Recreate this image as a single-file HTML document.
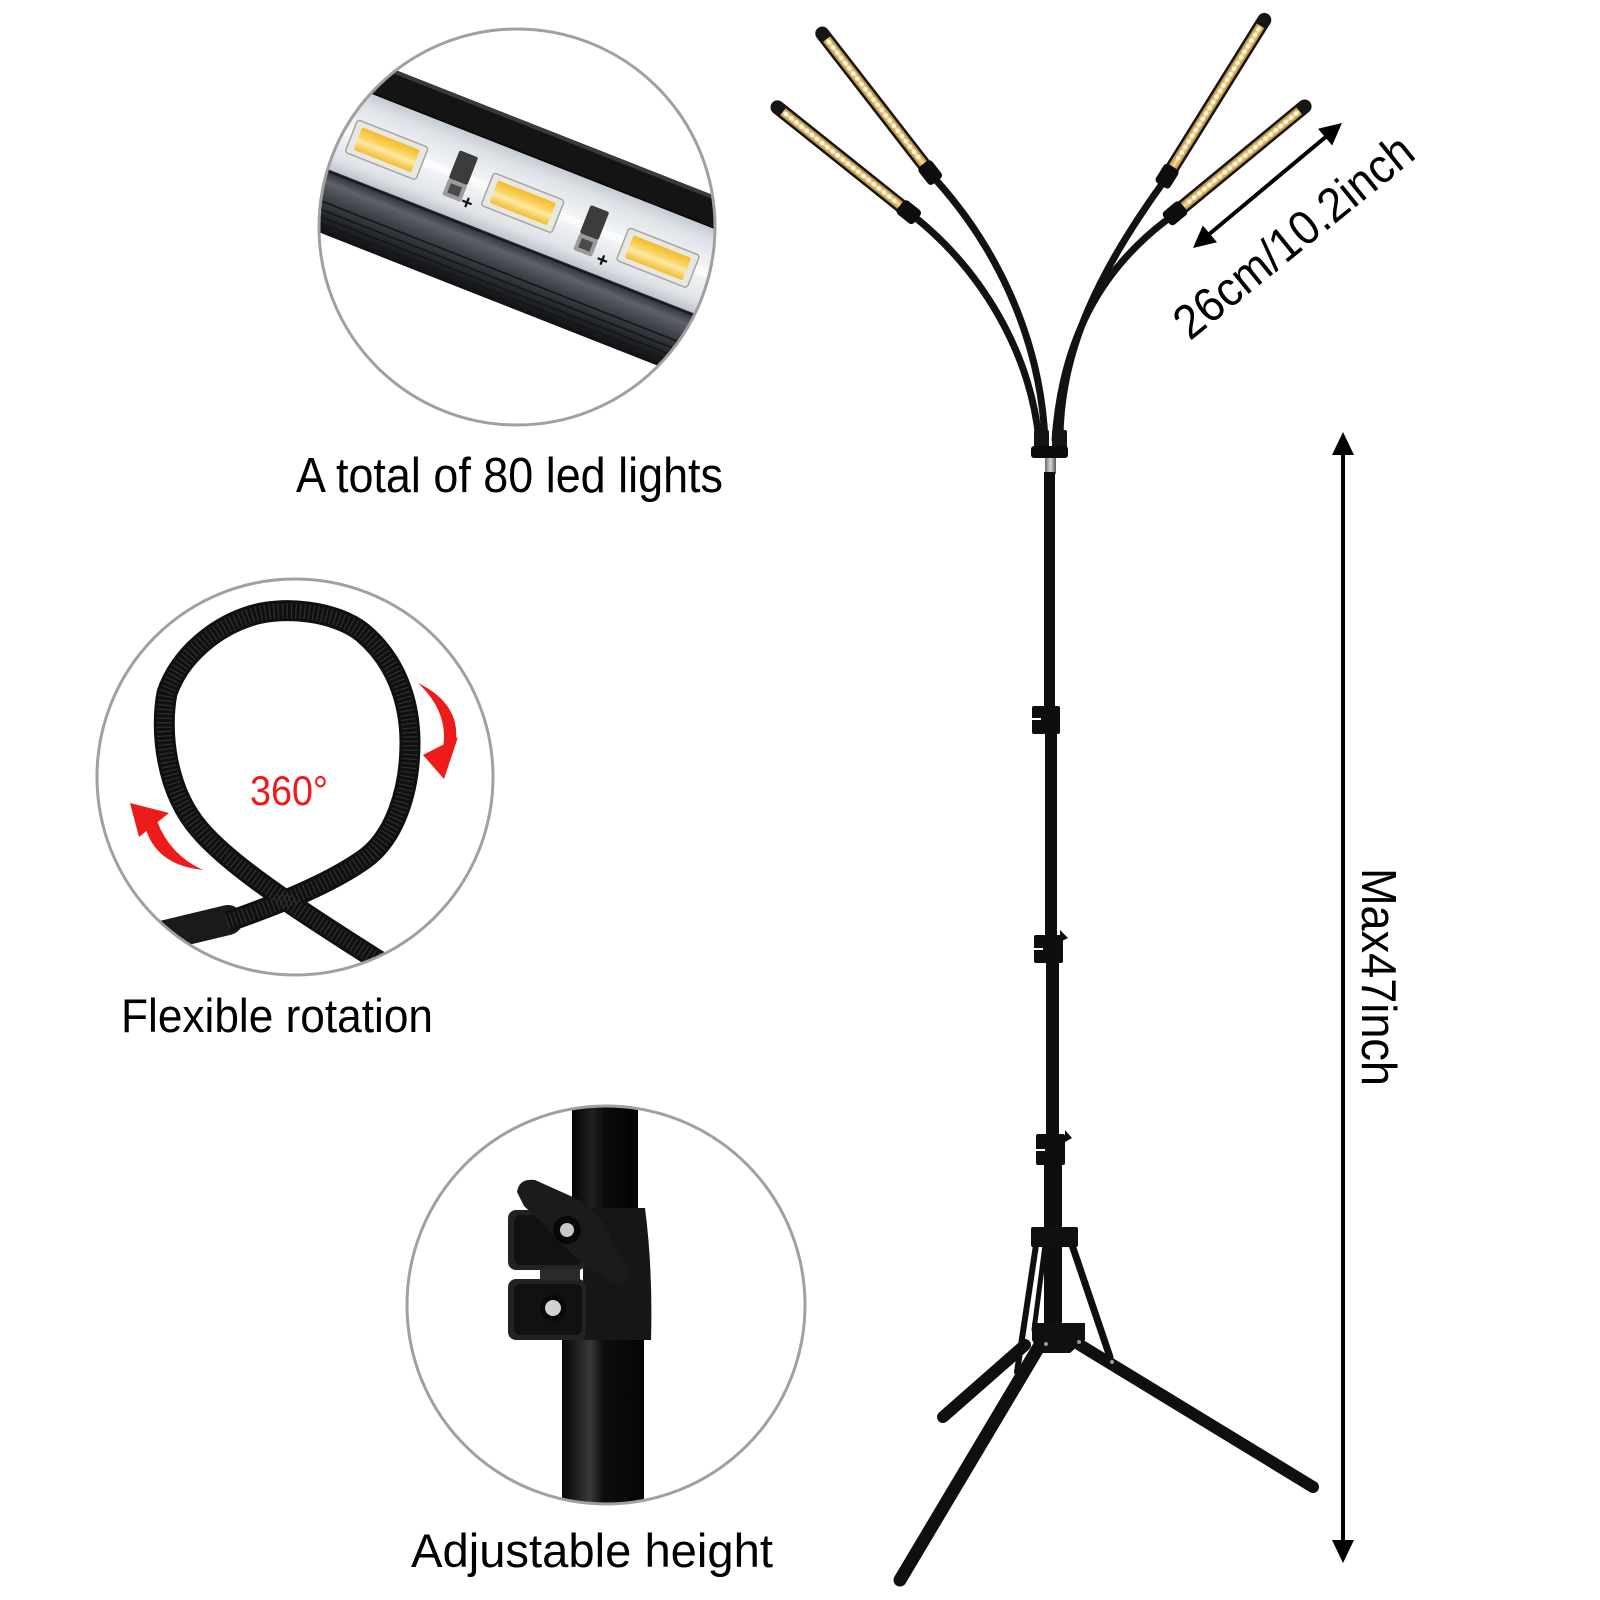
<!DOCTYPE html>
<html>
<head>
<meta charset="utf-8">
<style>
html,body{margin:0;padding:0;background:#fff;}
svg{display:block;}
text{font-family:"Liberation Sans",Arial,sans-serif;}
</style>
</head>
<body>
<svg width="1600" height="1600" viewBox="0 0 1600 1600" xmlns="http://www.w3.org/2000/svg">
<defs>
  <clipPath id="c1"><circle cx="517" cy="227" r="198"/></clipPath>
  <clipPath id="c2"><circle cx="295" cy="777" r="198"/></clipPath>
  <clipPath id="c3"><circle cx="606" cy="1305" r="199"/></clipPath>
  <linearGradient id="pcb" gradientUnits="userSpaceOnUse" x1="0" y1="0" x2="0" y2="86">
    <stop offset="0" stop-color="#c6ccd3"/>
    <stop offset="0.15" stop-color="#dde2e7"/>
    <stop offset="0.5" stop-color="#f5f7f9"/>
    <stop offset="0.85" stop-color="#dfe3e8"/>
    <stop offset="1" stop-color="#bfc5cc"/>
  </linearGradient>
  <linearGradient id="alu" gradientUnits="userSpaceOnUse" x1="0" y1="86" x2="0" y2="148">
    <stop offset="0" stop-color="#272a30"/>
    <stop offset="0.2" stop-color="#5d626a"/>
    <stop offset="0.45" stop-color="#3d4148"/>
    <stop offset="0.7" stop-color="#26292d"/>
    <stop offset="1" stop-color="#101113"/>
  </linearGradient>
  <linearGradient id="ledg" x1="0" y1="0" x2="0" y2="1">
    <stop offset="0" stop-color="#f3bb28"/>
    <stop offset="0.4" stop-color="#fad566"/>
    <stop offset="0.58" stop-color="#fde9a6"/>
    <stop offset="1" stop-color="#f2bc2e"/>
  </linearGradient>
  <linearGradient id="gold" x1="0" y1="0" x2="0" y2="1">
    <stop offset="0" stop-color="#b98a3a"/>
    <stop offset="0.5" stop-color="#f8dea0"/>
    <stop offset="1" stop-color="#b98a3a"/>
  </linearGradient>
  <linearGradient id="poleg" x1="0" y1="0" x2="1" y2="0">
    <stop offset="0" stop-color="#040404"/>
    <stop offset="0.3" stop-color="#202020"/>
    <stop offset="0.5" stop-color="#0a0a0a"/>
    <stop offset="1" stop-color="#030303"/>
  </linearGradient>
  <linearGradient id="poleg2" x1="0" y1="0" x2="1" y2="0">
    <stop offset="0" stop-color="#050505"/>
    <stop offset="0.22" stop-color="#262626"/>
    <stop offset="0.34" stop-color="#3a3a3a"/>
    <stop offset="0.5" stop-color="#0e0e0e"/>
    <stop offset="1" stop-color="#040404"/>
  </linearGradient>
  <linearGradient id="silver" x1="0" y1="0" x2="1" y2="0">
    <stop offset="0" stop-color="#6a6a6a"/>
    <stop offset="0.5" stop-color="#d8d8d8"/>
    <stop offset="1" stop-color="#555"/>
  </linearGradient>
</defs>

<rect width="1600" height="1600" fill="#fff"/>

<!-- ===== Top circle: LED strip ===== -->
<g clip-path="url(#c1)">
  <g transform="translate(320,73.6) rotate(21.5)">
    <rect x="-100" y="-31" width="750" height="31" fill="#141414"/>
    <rect x="-100" y="-31" width="750" height="4" fill="#3a3a3a"/>
    <rect x="-100" y="-2" width="750" height="3" fill="#0a0a0a"/>
    <rect x="-100" y="0" width="750" height="86" fill="url(#pcb)"/>
    <rect x="-100" y="40" width="750" height="8" fill="#ffffff" opacity="0.6"/>
    <rect x="-100" y="86" width="750" height="62" fill="url(#alu)"/>
    <g stroke="#141619" stroke-width="1.6">
      <line x1="-100" y1="88" x2="650" y2="88"/>
      <line x1="-100" y1="118" x2="650" y2="118"/>
      <line x1="-100" y1="126" x2="650" y2="126"/>
      <line x1="-100" y1="133" x2="650" y2="133"/>
      <line x1="-100" y1="139" x2="650" y2="139"/>
      <line x1="-100" y1="144" x2="650" y2="144"/>
    </g>
    <!-- LEDs -->
    <g transform="translate(90,46.5)">
      <rect x="-38" y="-17.5" width="76" height="35" rx="3" fill="#e8e8e3" stroke="#a6a69e" stroke-width="1.5"/>
      <rect x="-31" y="-12" width="62" height="24" rx="2" fill="url(#ledg)"/>
    </g>
    <g transform="translate(236,46)">
      <rect x="-38" y="-17.5" width="76" height="35" rx="3" fill="#e8e8e3" stroke="#a6a69e" stroke-width="1.5"/>
      <rect x="-31" y="-12" width="62" height="24" rx="2" fill="url(#ledg)"/>
    </g>
    <g transform="translate(382,47.5)">
      <rect x="-38" y="-17.5" width="76" height="35" rx="3" fill="#e8e8e3" stroke="#a6a69e" stroke-width="1.5"/>
      <rect x="-31" y="-12" width="62" height="24" rx="2" fill="url(#ledg)"/>
    </g>
    <!-- resistors -->
    <g transform="translate(168,46)">
      <rect x="-10" y="-26" width="20" height="30" rx="2" fill="#3c3c3c"/>
      <rect x="-10" y="4" width="20" height="18" rx="2" fill="#9b9b9b"/>
      <rect x="-6" y="8" width="12" height="10" fill="#4a4a4a"/>
    </g>
    <g transform="translate(310,49)">
      <rect x="-10" y="-26" width="20" height="30" rx="2" fill="#3c3c3c"/>
      <rect x="-10" y="4" width="20" height="18" rx="2" fill="#9b9b9b"/>
      <rect x="-6" y="8" width="12" height="10" fill="#4a4a4a"/>
    </g>
    <g stroke="#111" stroke-width="2.2">
      <line x1="179" y1="66" x2="189" y2="66"/><line x1="184" y1="61" x2="184" y2="71"/>
      <line x1="326" y1="70" x2="336" y2="70"/><line x1="331" y1="65" x2="331" y2="75"/>
    </g>
  </g>
</g>
<circle cx="517" cy="227" r="198" fill="none" stroke="#a0a0a0" stroke-width="3"/>

<text x="296" y="492" font-size="49" textLength="427" lengthAdjust="spacingAndGlyphs" fill="#000">A total of 80 led lights</text>

<!-- ===== Left circle: flexible gooseneck ===== -->
<g clip-path="url(#c2)">
  <line x1="120" y1="946" x2="228" y2="920" stroke="#1a1a1a" stroke-width="30" stroke-linecap="round"/>
  <path d="M227,922 C255,912 320,890 363,860 C395,838 410,790 410,743 C410,700 395,660 363,633 C335,610 280,605 247,617 C215,628 180,655 167,693 C160,730 165,790 200,830 C230,865 290,905 390,968"
        fill="none" stroke="#101010" stroke-width="21"/>
  <path d="M227,922 C255,912 320,890 363,860 C395,838 410,790 410,743 C410,700 395,660 363,633 C335,610 280,605 247,617 C215,628 180,655 167,693 C160,730 165,790 200,830 C230,865 290,905 390,968"
        fill="none" stroke="#4a4a4a" stroke-width="15" stroke-dasharray="1.2 3.2" opacity="0.55"/>
  <!-- red arrows -->
  <path d="M418,683 Q463,705 455,746 L443,748 Q449,712 418,683 Z" fill="#ee1b1b"/>
  <polygon points="423,755 458,737 444,779" fill="#ee1b1b"/>
  <path d="M203,870 Q155,865 145,826 L157,821 Q170,855 203,870 Z" fill="#ee1b1b"/>
  <polygon points="130,803 139,837 169,813" fill="#ee1b1b"/>
</g>
<circle cx="295" cy="777" r="198" fill="none" stroke="#a0a0a0" stroke-width="3"/>
<text x="250" y="805" font-size="42" textLength="78" lengthAdjust="spacingAndGlyphs" fill="#f01a1a">360°</text>

<text x="121" y="1032" font-size="47" textLength="312" lengthAdjust="spacingAndGlyphs" fill="#000">Flexible rotation</text>

<!-- ===== Bottom circle: clamp ===== -->
<g clip-path="url(#c3)">
  <rect x="572" y="1090" width="66" height="130" fill="url(#poleg)"/>
  <rect x="562" y="1335" width="82" height="190" fill="url(#poleg2)"/>
  <path d="M583,1208 L645,1208 Q653,1270 651,1340 L583,1340 Z" fill="#161616"/>
  <rect x="508" y="1210" width="78" height="60" rx="8" fill="#222"/>
  <rect x="514" y="1215" width="68" height="50" rx="6" fill="#111"/>
  <rect x="508" y="1279" width="78" height="61" rx="8" fill="#222"/>
  <rect x="514" y="1284" width="68" height="51" rx="6" fill="#111"/>
  <rect x="540" y="1269" width="40" height="11" fill="#2a2a2a"/>
  <path d="M517,1192 Q519,1178 535,1180 L575,1198 Q600,1210 612,1240 L629,1272 Q627,1286 612,1283 L590,1268 Q565,1250 545,1226 L524,1206 Z" fill="#1b1b1b"/>
  <circle cx="567" cy="1230" r="14" fill="#080808"/>
  <circle cx="567" cy="1230" r="7" fill="#c9c9c9"/>
  <circle cx="553" cy="1308" r="13" fill="#080808"/>
  <circle cx="553" cy="1308" r="8" fill="#d2d2d2"/>
</g>
<circle cx="606" cy="1305" r="199" fill="none" stroke="#a0a0a0" stroke-width="3"/>

<text x="411" y="1567" font-size="47" textLength="362" lengthAdjust="spacingAndGlyphs" fill="#000">Adjustable height</text>

<!-- ===== Lamp: goosenecks ===== -->
<g fill="none" stroke="#121212" stroke-width="7" stroke-linecap="round">
  <path d="M916,218 C980,270 1030,350 1039,440"/>
  <path d="M936,180 C990,240 1040,330 1045,440"/>
  <path d="M1162,184 C1100,270 1060,350 1060,440"/>
  <path d="M1168,219 C1100,270 1062,340 1055,440"/>
</g>

<!-- LED bars -->
<g transform="translate(772,103) rotate(38.6)">
  <rect x="0" y="-7" width="184" height="14" rx="7" fill="#151515"/>
  <rect x="14" y="-4.5" width="150" height="9" fill="url(#gold)"/>
  <line x1="18" y1="0" x2="160" y2="0" stroke="#fff8e0" stroke-width="4.5" stroke-dasharray="0.1 6.5" stroke-linecap="round"/>
  <rect x="164" y="-8.5" width="22" height="17" rx="4" fill="#0d0d0d"/>
</g>
<g transform="translate(818,28) rotate(52.2)">
  <rect x="0" y="-7" width="192" height="14" rx="7" fill="#151515"/>
  <rect x="14" y="-4.5" width="158" height="9" fill="url(#gold)"/>
  <line x1="18" y1="0" x2="168" y2="0" stroke="#fff8e0" stroke-width="4.5" stroke-dasharray="0.1 6.5" stroke-linecap="round"/>
  <rect x="172" y="-8.5" width="22" height="17" rx="4" fill="#0d0d0d"/>
</g>
<g transform="translate(1268,14) rotate(121.9)">
  <rect x="0" y="-7" width="200" height="14" rx="7" fill="#151515"/>
  <rect x="14" y="-4.5" width="166" height="9" fill="url(#gold)"/>
  <line x1="18" y1="0" x2="176" y2="0" stroke="#fff8e0" stroke-width="4.5" stroke-dasharray="0.1 6.5" stroke-linecap="round"/>
  <rect x="180" y="-8.5" width="22" height="17" rx="4" fill="#0d0d0d"/>
</g>
<g transform="translate(1310,102) rotate(140.5)">
  <rect x="0" y="-7" width="184" height="14" rx="7" fill="#151515"/>
  <rect x="14" y="-4.5" width="150" height="9" fill="url(#gold)"/>
  <line x1="18" y1="0" x2="160" y2="0" stroke="#fff8e0" stroke-width="4.5" stroke-dasharray="0.1 6.5" stroke-linecap="round"/>
  <rect x="164" y="-8.5" width="22" height="17" rx="4" fill="#0d0d0d"/>
</g>

<!-- hub -->
<rect x="1034" y="430" width="15" height="19" rx="2" fill="#141414"/>
<rect x="1052" y="430" width="15" height="19" rx="2" fill="#141414"/>
<rect x="1031" y="446" width="37" height="12" rx="3" fill="#0c0c0c"/>
<rect x="1045" y="458" width="11" height="16" fill="url(#silver)"/>

<!-- pole -->
<g fill="#0e0e0e">
  <rect x="1044" y="472" width="11" height="240"/>
  <rect x="1032" y="706" width="28" height="28" rx="2"/>
  <rect x="1045" y="734" width="12" height="203"/>
  <rect x="1034" y="935" width="29" height="28" rx="2"/>
  <rect x="1046" y="963" width="13" height="175"/>
  <rect x="1036" y="1134" width="29" height="31" rx="2"/>
  <rect x="1044" y="1165" width="18" height="170"/>
</g>
<g fill="#fff">
  <rect x="1032" y="718" width="9" height="2"/>
  <rect x="1034" y="948" width="9" height="2"/>
  <rect x="1036" y="1149" width="9" height="2"/>
</g>
<g fill="#0e0e0e">
  <polygon points="1060,930 1068,938 1060,942"/>
  <polygon points="1065,1130 1072,1138 1065,1142"/>
</g>

<!-- tripod -->
<g stroke="#0f0f0f" stroke-linecap="round" fill="none">
  <line x1="1036" y1="1245" x2="1017" y2="1372" stroke-width="6"/>
  <line x1="1045" y1="1245" x2="1034" y2="1330" stroke-width="5"/>
  <line x1="1072" y1="1245" x2="1110" y2="1357" stroke-width="7"/>
  <line x1="1025" y1="1345" x2="943" y2="1417" stroke-width="12"/>
  <line x1="1040" y1="1345" x2="900" y2="1580" stroke-width="13"/>
  <line x1="1080" y1="1345" x2="1313" y2="1487" stroke-width="12"/>
</g>
<rect x="1031" y="1227" width="47" height="20" rx="2" fill="#101010"/>
<polygon points="1032,1323 1085,1323 1085,1340 1070,1353 1040,1353 1032,1340" fill="#101010"/>
<g fill="#999">
  <circle cx="1079" cy="1342" r="2"/><circle cx="1112" cy="1362" r="2"/><circle cx="1046" cy="1344" r="2"/>
</g>

<!-- vertical arrow -->
<line x1="1343" y1="450" x2="1343" y2="1545" stroke="#000" stroke-width="4"/>
<polygon points="1343,432 1332,455 1354,455" fill="#000"/>
<polygon points="1332,1540 1354,1540 1343,1563" fill="#000"/>
<text transform="translate(1362,868) rotate(90)" font-size="49" textLength="218" lengthAdjust="spacingAndGlyphs" fill="#000">Max47inch</text>

<!-- diagonal arrow -->
<line x1="1207" y1="236" x2="1328" y2="135" stroke="#000" stroke-width="4"/>
<polygon points="1342,123 1332.2,145.5 1318,128.7" fill="#000"/>
<polygon points="1193,248 1217,242.3 1202.8,225.5" fill="#000"/>
<text transform="translate(1293,236) rotate(-39)" y="17" text-anchor="middle" font-size="48" textLength="293" lengthAdjust="spacingAndGlyphs" fill="#000">26cm/10.2inch</text>

</svg>
</body>
</html>
